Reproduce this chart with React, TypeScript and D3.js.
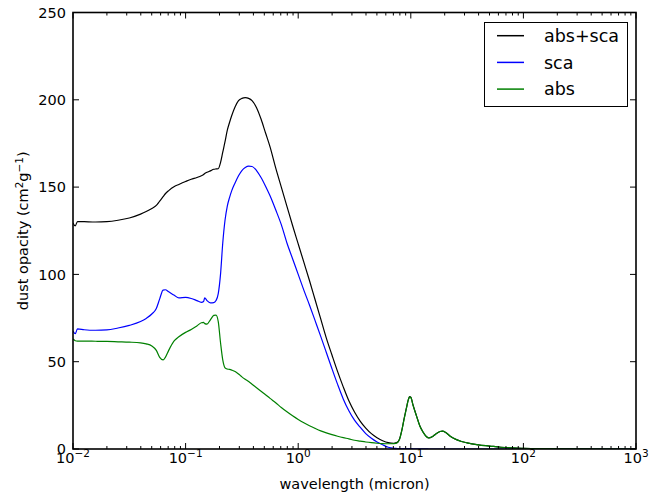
import React from 'react';
import * as d3 from 'd3';

// wavelength grid (micron)
const wavelength = [
  0.0100, 0.01047, 0.01096, 0.01259, 0.01585, 0.01995, 0.02512, 0.03162, 0.03981, 0.04467,
  0.05012, 0.05495, 0.05888, 0.06310, 0.06607, 0.07079, 0.07943, 0.08710, 0.1000, 0.1122,
  0.1259, 0.1380, 0.1445, 0.1479, 0.1549, 0.1660, 0.1778, 0.1862, 0.1950, 0.2042,
  0.2138, 0.2239, 0.2344, 0.2455, 0.2570, 0.2754, 0.2951, 0.3162, 0.3388, 0.3631,
  0.3890, 0.4266, 0.4677, 0.5129, 0.5623, 0.6310, 0.7079, 0.7943, 0.8913, 1.000,
  1.122, 1.259, 1.413, 1.585, 1.778, 1.995, 2.239, 2.512, 2.818, 3.162,
  3.548, 3.981, 4.467, 5.012, 5.623, 6.310, 7.079, 7.586, 7.943, 8.318,
  8.710, 9.120, 9.550, 9.772, 10.00, 10.47, 11.22, 12.02, 12.88, 13.80,
  14.45, 15.49, 16.60, 18.20, 19.05, 20.42, 22.39, 25.12, 28.18, 31.62,
  39.81, 50.12, 63.10, 79.43, 100.0, 158.5, 316.2, 1000,
];

// abs+sca opacity (cm^2 g^-1)
const absSca = [
  129.5, 127.8, 130.3, 130.2, 130.0, 130.2, 131.0, 132.3, 134.5, 136.0,
  137.8, 139.5, 142.0, 144.5, 146.2, 148.0, 150.3, 151.5, 153.2, 154.5,
  155.5, 156.5, 157.2, 157.8, 158.5, 159.3, 160.2, 160.4, 160.5, 164.0,
  170.0, 176.0, 182.5, 187.0, 191.0, 196.0, 199.5, 200.8, 201.2, 200.8,
  199.5, 195.5, 189.0, 181.0, 173.0, 161.0, 150.0, 139.0, 128.0, 117.5,
  107.0, 96.5, 85.5, 74.5, 63.5, 53.8, 44.3, 35.6, 27.6, 21.2,
  16.0, 12.0, 8.8, 6.5, 4.7, 3.6, 3.3, 3.8, 5.7, 10.7,
  17.2, 23.2, 28.7, 30.0, 29.7, 25.2, 19.1, 13.3, 9.6, 7.0,
  6.3, 7.0, 8.5, 10.0, 10.2, 9.5, 7.3, 5.5, 4.3, 3.5,
  2.4, 1.7, 1.0, 0.6, 0.4, 0.2, 0.05, 0,
];

// sca opacity
const sca = [
  67.5, 66.0, 68.8, 68.3, 68.0, 68.2, 69.3, 70.8, 73.0, 74.8,
  77.3, 80.5, 86.0, 91.0, 91.2, 90.0, 88.0, 86.5, 86.8, 86.2,
  85.0, 84.0, 84.5, 86.6, 85.0, 83.7, 83.8, 85.0, 89.0, 100.0,
  118.0, 131.0, 139.0, 144.0, 148.0, 152.5, 156.5, 159.5, 161.2, 162.0,
  161.8, 159.5, 155.5, 150.5, 145.0, 137.0, 128.5, 118.0, 109.0, 100.0,
  91.0, 82.5, 73.5, 64.5, 55.3, 46.0, 37.0, 28.7, 21.9, 16.5,
  12.5, 8.8, 6.1, 4.0, 2.4, 1.0, 0.4, 0.3, 0.2, 0.2,
  0.2, 0.2, 0.2, 0.2, 0.2, 0.15, 0.1, 0.1, 0.05, 0.05,
  0, 0, 0, 0, 0, 0, 0, 0, 0, 0,
  0, 0, 0, 0, 0, 0, 0, 0,
];

// abs opacity
const abs = [
  63.0, 62.0, 61.8, 61.8, 61.7, 61.6, 61.4, 61.2, 60.8, 60.2,
  59.0, 56.5, 52.5, 51.0, 52.5, 56.5, 62.0, 64.3, 66.8, 68.5,
  70.5, 72.3, 72.5, 71.8, 71.5, 74.0, 76.5, 76.7, 73.0, 61.0,
  51.0, 46.5, 45.8, 45.6, 45.2, 44.4, 43.0, 41.3, 39.9, 38.6,
  37.1, 35.1, 33.1, 31.1, 29.0, 26.5, 23.8, 21.3, 19.0, 16.9,
  15.0, 13.3, 11.8, 10.4, 9.2, 8.2, 7.3, 6.5, 5.8, 5.0,
  4.5, 4.0, 3.6, 3.3, 3.1, 3.0, 3.1, 3.6, 5.5, 10.5,
  17.0, 23.0, 28.5, 29.8, 29.5, 25.0, 19.0, 13.2, 9.5, 7.0,
  6.3, 7.0, 8.5, 10.0, 10.2, 9.5, 7.3, 5.5, 4.3, 3.5,
  2.4, 1.7, 1.0, 0.6, 0.4, 0.2, 0.05, 0,
];

const seriesNames = ['abs+sca', 'sca', 'abs'];
const seriesColors = ['#000000', '#0000ff', '#008000'];
const yTickValues = [0, 50, 100, 150, 200, 250];
const xTickExponents = [-2, -1, 0, 1, 2, 3];

const FONT = 'DejaVu Sans, sans-serif';

export default function App() {
  const W = 667;
  const H = 495;
  const left = 73;
  const right = 636;
  const top = 12.5;
  const bottom = 449;

  const x = d3.scaleLog().domain([1e-2, 1e3]).range([left, right]);
  const y = d3.scaleLinear().domain([0, 250]).range([bottom, top]);

  const mk = (vals: number[]) =>
    d3
      .line<number>()
      .x((_, i) => x(wavelength[i]))
      .y((d) => y(d))
      .curve(d3.curveMonotoneX)(vals) || '';

  const series = [absSca, sca, abs];
  // draw order: abs+sca, sca, abs (abs on top as in matplotlib plot order)
  const minor: number[] = [];
  for (let k = -2; k <= 2; k++) {
    for (let m = 2; m <= 9; m++) minor.push(m * Math.pow(10, k));
  }

  const majorLen = 6;
  const minorLen = 3;

  return (
    <svg
      width={W}
      height={H}
      style={{ position: 'absolute', left: 0, top: 0, background: '#fff' }}
      fontFamily={FONT}
    >
      <rect x={0} y={0} width={W} height={H} fill="#fff" />
      <defs>
        <clipPath id="plotclip">
          <rect x={left} y={top} width={right - left} height={bottom - top} />
        </clipPath>
      </defs>
      <g clipPath="url(#plotclip)">
        {series.map((s, i) => (
          <path key={i} d={mk(s)} fill="none" stroke={seriesColors[i]} strokeWidth={1.2} />
        ))}
      </g>

      {/* ticks */}
      <g stroke="#000" strokeWidth={1}>
        {xTickExponents.map((e) => {
          const px = x(Math.pow(10, e));
          return (
            <g key={'xt' + e}>
              <line x1={px} x2={px} y1={bottom} y2={bottom - majorLen} />
              <line x1={px} x2={px} y1={top} y2={top + majorLen} />
            </g>
          );
        })}
        {minor.map((v, i) => {
          const px = x(v);
          return (
            <g key={'mt' + i}>
              <line x1={px} x2={px} y1={bottom} y2={bottom - minorLen} />
              <line x1={px} x2={px} y1={top} y2={top + minorLen} />
            </g>
          );
        })}
        {yTickValues.map((v) => {
          const py = y(v);
          return (
            <g key={'yt' + v}>
              <line x1={left} x2={left + majorLen} y1={py} y2={py} />
              <line x1={right} x2={right - majorLen} y1={py} y2={py} />
            </g>
          );
        })}
      </g>

      {/* frame */}
      <rect
        x={left}
        y={top}
        width={right - left}
        height={bottom - top}
        fill="none"
        stroke="#000"
        strokeWidth={1.6}
      />

      {/* y tick labels */}
      {yTickValues.map((v) => (
        <text
          key={'yl' + v}
          x={left - 7}
          y={y(v)}
          dy="0.36em"
          textAnchor="end"
          fontSize={14.5}
          fill="#000"
        >
          {v}
        </text>
      ))}

      {/* x tick labels */}
      {xTickExponents.map((e) => (
        <text
          key={'xl' + e}
          x={x(Math.pow(10, e))}
          y={bottom + 14}
          textAnchor="middle"
          fontSize={14.5}
          fill="#000"
        >
          <tspan>10</tspan>
          <tspan dy={-6} fontSize={10.5}>
            {e < 0 ? '\u2212' + Math.abs(e) : String(e)}
          </tspan>
        </text>
      ))}

      {/* axis labels */}
      <text
        x={(left + right) / 2}
        y={489}
        textAnchor="middle"
        fontSize={14.5}
        fill="#000"
      >
        wavelength (micron)
      </text>
      <text
        transform={`translate(28, ${(top + bottom) / 2}) rotate(-90)`}
        textAnchor="middle"
        fontSize={14.5}
        fill="#000"
      >
        <tspan>dust opacity (cm</tspan>
        <tspan dy={-5} fontSize={10.5}>2</tspan>
        <tspan dy={5}>g</tspan>
        <tspan dy={-5} fontSize={10.5}>{'\u22121'}</tspan>
        <tspan dy={5}>)</tspan>
      </text>

      {/* legend */}
      <g>
        <rect x={484.5} y={22.5} width={143} height={84} fill="#fff" stroke="#000" strokeWidth={1} />
        {seriesNames.map((n, i) => {
          const ly = 35.7 + i * 26.7;
          return (
            <g key={n}>
              <line x1={497} x2={524} y1={ly} y2={ly} stroke={seriesColors[i]} strokeWidth={1.5} />
              <text x={544} y={ly} dy="0.36em" fontSize={17.5} fill="#000">
                {n}
              </text>
            </g>
          );
        })}
      </g>
    </svg>
  );
}
